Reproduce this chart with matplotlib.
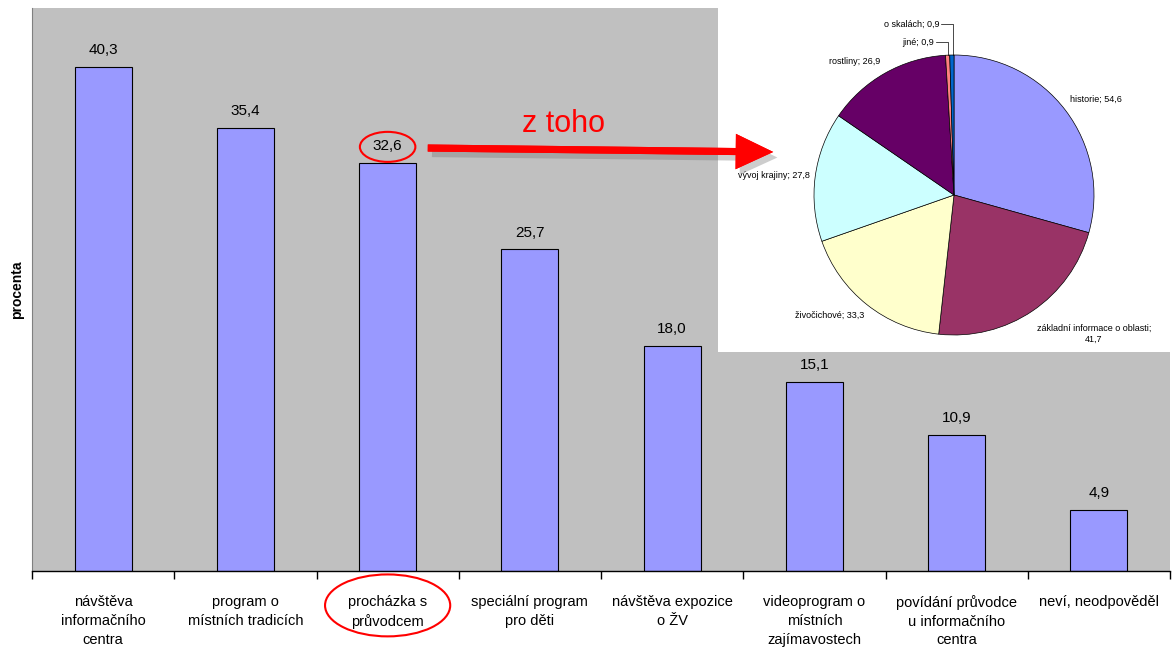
import matplotlib
matplotlib.use("Agg")
import matplotlib.pyplot as plt
from matplotlib.patches import Ellipse
import matplotlib.patheffects as pe
import numpy as np

plt.rcParams['font.family'] = ['Liberation Sans', 'DejaVu Sans']

categories = ["návštěva\ninformačního\ncentra", "program o\nmístních tradicích",
              "procházka s\nprůvodcem", "speciální program\npro děti",
              "návštěva expozice\no ŽV", "videoprogram o\nmístních\nzajímavostech",
              "povídání průvodce\nu informačního\ncentra", "neví, neodpověděl"]
values = [40.3, 35.4, 32.6, 25.7, 18.0, 15.1, 10.9, 4.9]

pie_labels = ["historie", "základní informace o oblasti", "živočichové",
              "vývoj krajiny", "rostliny", "jiné", "o skalách"]
pie_values = [54.6, 41.7, 33.3, 27.8, 26.9, 0.9, 0.9]
pie_colors = ["#9999FF", "#993366", "#FFFFCC", "#CCFFFF", "#660066", "#FF8080", "#0066CC"]

W, H = 1173, 650
fig = plt.figure(figsize=(W / 100, H / 100), dpi=100)
fig.patch.set_facecolor("white")

def fbox(x0, y0, x1, y1):
    return [x0 / W, 1 - y1 / H, (x1 - x0) / W, (y1 - y0) / H]

ax = fig.add_axes(fbox(32, 8, 1170, 571))
ax.set_facecolor("#C0C0C0")
x = np.arange(len(values))
bars = ax.bar(x, values, width=0.4, color="#9999FF", edgecolor="black", linewidth=0.8)
labels = ax.bar_label(bars, labels=[f"{v:.1f}".replace(".", ",") for v in values],
                      padding=7, fontsize=11)
ax.set_xlim(-0.5, len(values) - 0.5)
ax.set_ylim(0, 45)
ax.set_yticks([])
ax.set_xticks(np.arange(len(values) + 1) - 0.5)
ax.set_xticklabels([])
ax.set_xticks(x, minor=True)
ax.set_xticklabels(categories, minor=True, fontsize=10.5, linespacing=1.45)
ax.tick_params(axis="x", which="major", length=6, width=1, direction="out")
ax.tick_params(axis="x", which="minor", length=0, pad=17)
for s in ["top", "right"]:
    ax.spines[s].set_visible(False)
ax.spines["left"].set_color("#808080")
ax.spines["left"].set_linewidth(0.8)
ax.spines["bottom"].set_linewidth(1)
ax.set_ylabel("procenta", fontsize=10, fontweight="bold", labelpad=6)

# highlight ellipses
ax.add_patch(Ellipse((2, 33.9), 0.39, 2.4, fill=False, edgecolor="red", lw=1.5, clip_on=False))
ax.add_patch(Ellipse((2, -2.75), 0.88, 4.95, fill=False, edgecolor="red", lw=1.5, clip_on=False))

# white inset background
bg = fig.add_axes(fbox(718, 0, 1173, 352))
bg.set_facecolor("white")
bg.set_xticks([]); bg.set_yticks([])
for s in bg.spines.values():
    s.set_visible(False)

pax = fig.add_axes(fbox(954 - 140, 195 - 140, 954 + 140, 195 + 140))
wedges, _ = pax.pie(pie_values, colors=pie_colors, startangle=90, counterclock=False,
                    radius=1, wedgeprops=dict(edgecolor="black", linewidth=0.5))
pax.set_xlim(-1, 1); pax.set_ylim(-1, 1)
pax.set_aspect("equal")
pax.axis("off")

def fmt(v):
    return f"{v:.1f}".replace(".", ",")

fs = 6.5
pax.text(0.83, 0.68, f"{pie_labels[0]}; {fmt(pie_values[0])}", fontsize=fs, ha="left", va="center")
pax.text(1.0, -0.99, f"{pie_labels[1]};\n{fmt(pie_values[1])}", fontsize=fs, ha="center", va="center", linespacing=1.3)
pax.text(-0.64, -0.86, f"{pie_labels[2]}; {fmt(pie_values[2])}", fontsize=fs, ha="right", va="center")
pax.text(-1.03, 0.14, f"{pie_labels[3]}; {fmt(pie_values[3])}", fontsize=fs, ha="right", va="center")
pax.text(-0.53, 0.95, f"{pie_labels[4]}; {fmt(pie_values[4])}", fontsize=fs, ha="right", va="center")
pax.text(-0.14, 1.09, f"{pie_labels[5]}; {fmt(pie_values[5])}", fontsize=fs, ha="right", va="center")
pax.text(-0.10, 1.22, f"{pie_labels[6]}; {fmt(pie_values[6])}", fontsize=fs, ha="right", va="center")
pax.plot([-0.13, -0.04, -0.04], [1.09, 1.09, 1.0], color="black", lw=0.5, clip_on=False)
pax.plot([-0.09, -0.01, -0.01], [1.22, 1.22, 1.0], color="black", lw=0.5, clip_on=False)

# arrow and text
fig.text(563 / W, 1 - 124 / H, "z toho", color="red", fontsize=22, ha="center", va="center")
fig.add_artist(matplotlib.patches.FancyArrowPatch(
    (425 / W, 1 - 148 / H), (776 / W, 1 - 152 / H), transform=fig.transFigure,
    arrowstyle="simple,head_length=0.9,tail_width=0.17,head_width=0.85",
    mutation_scale=30, color="red", linewidth=0,
    path_effects=[pe.withSimplePatchShadow(offset=(3, -4), shadow_rgbFace="#707070", alpha=0.35),
                  pe.Normal()]))

fig.savefig("out.png", dpi=100)
